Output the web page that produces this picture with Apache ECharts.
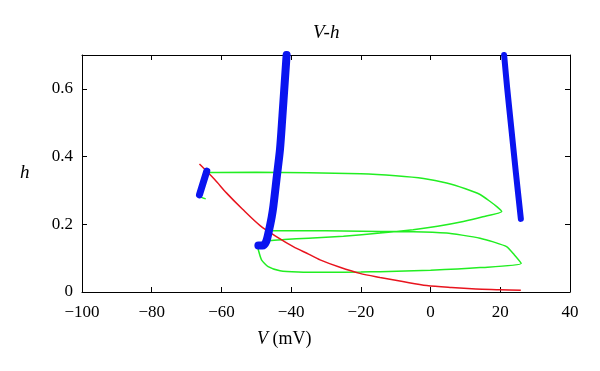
<!DOCTYPE html>
<html>
<head>
<meta charset="utf-8">
<script src="https://cdn.jsdelivr.net/npm/echarts@6/dist/echarts.min.js"></script>
<style>html,body{margin:0;padding:0;background:#fff}#c{width:600px;height:371px}</style>
</head>
<body>
<div id="c"></div>
<script>
var xTicks = [-100, -80, -60, -40, -20, 0, 20, 40];
var yTicks = [0, 0.2, 0.4, 0.6];

var blueLeftV = [-49.4, -48.2, -47.2, -46.4, -45.6, -45.1, -44.1, -43.2, -42.5, -41.9, -41.3];
var blueLeftH = [0.137, 0.137, 0.148, 0.18, 0.22, 0.253, 0.342, 0.421, 0.52, 0.61, 0.70];

var blueRightV = [21.1, 22.0, 23.2, 24.5, 25.9];
var blueRightH = [0.70, 0.60, 0.48, 0.35, 0.216];

var blueShortV = [-66.3, -64.2];
var blueShortH = [0.287, 0.357];

var redV = [-66.3, -62, -58.5, -54, -48.9, -44, -39.4, -35, -31.7, -26, -20.3, -14.5, -8, -1.1, 6, 13, 20, 25.9];
var redH = [0.378, 0.333, 0.292, 0.245, 0.196, 0.162, 0.134, 0.112, 0.095, 0.073, 0.055, 0.043, 0.031, 0.019, 0.013, 0.009, 0.007, 0.005];

var greenV = [-64.5, -66.0, -64.3, -50, -35, -20, -10, -2, 4.6, 10, 14.2, 17, 19, 20.4,
  15, 9.4, 2, -5, -14.5, -25, -35, -42, -46.1, -48.5, -49.6, -49.4, -48.5, -46.6, -43.2, -38, -29.8, -20, -14.5, 0, 14.2, 26,
  24, 21.8, 18, 14.2, 9, 4.6, -5, -14.5, -25, -35, -46];
var greenH = [0.275, 0.282, 0.353, 0.354, 0.352, 0.349, 0.343, 0.335, 0.322, 0.305, 0.288, 0.268, 0.252, 0.238,
  0.222, 0.208, 0.194, 0.184, 0.174, 0.165, 0.159, 0.155, 0.152, 0.146, 0.135, 0.124, 0.095, 0.075, 0.063, 0.059, 0.058, 0.059, 0.060, 0.064, 0.072, 0.084,
  0.11, 0.134, 0.148, 0.159, 0.168, 0.174, 0.178, 0.179, 0.180, 0.181, 0.181];

function zip(a, b) { return a.map(function (v, i) { return [v, b[i]]; }); }

var font = 'Liberation Serif';
var chart = echarts.init(document.getElementById('c'), null, {renderer: 'canvas'});
var axisBase = {
  axisLine: {show: true, onZero: false, lineStyle: {color: '#000', width: 1}},
  axisTick: {show: true, inside: true, length: 5, lineStyle: {color: '#000'}},
  splitLine: {show: false}
};
chart.setOption({
  animation: false,
  backgroundColor: '#fff',
  grid: {left: 82, right: 30, top: 55, bottom: 79},
  xAxis: [
    Object.assign({type: 'value', min: -100, max: 40, interval: 20, position: 'bottom',
      axisLabel: {color: '#000', fontFamily: font, fontSize: 17, margin: 12,
        formatter: function (v) { return v < 0 ? '\u2212' + Math.abs(v) : String(v); }}}, axisBase),
    Object.assign({type: 'value', min: -100, max: 40, interval: 20, position: 'top',
      axisLabel: {show: false}}, axisBase)
  ],
  yAxis: [
    Object.assign({type: 'value', min: 0, max: 0.7, interval: 0.2, position: 'left',
      axisLabel: {color: '#000', fontFamily: font, fontSize: 17, margin: 9,
        formatter: function (v) { return v > 0.65 ? '' : (v === 0 ? '0' : v.toFixed(1)); }}}, axisBase),
    Object.assign({type: 'value', min: 0, max: 0.7, interval: 0.2, position: 'right',
      axisLabel: {show: false}}, axisBase)
  ],
  graphic: [
    {type: 'text', left: 313, top: 23, style: {text: 'V-h', fontFamily: font, fontSize: 19, fontStyle: 'italic', fill: '#000'}},
    {type: 'text', left: 20, top: 163, style: {text: 'h', fontFamily: font, fontSize: 19, fontStyle: 'italic', fill: '#000'}},
    {type: 'text', left: 257, top: 330, style: {text: '{i|V} (mV)', fontFamily: font, fontSize: 18, fill: '#000',
      rich: {i: {fontFamily: font, fontSize: 18, fontStyle: 'italic', fill: '#000'}}}}
  ],
  series: [
    {type: 'line', data: zip(greenV, greenH), showSymbol: false, symbol: 'none', smooth: 0.2,
      lineStyle: {color: '#22ee22', width: 1.5}},
    {type: 'line', data: zip(redV, redH), showSymbol: false, symbol: 'none', smooth: 0.3,
      lineStyle: {color: '#e8141e', width: 1.5}},
    {type: 'line', data: zip(blueLeftV, blueLeftH), showSymbol: false, symbol: 'none', smooth: 0.3,
      lineStyle: {color: '#0a14f0', width: 8, cap: 'round', join: 'round'}},
    {type: 'line', data: zip(blueRightV, blueRightH), showSymbol: false, symbol: 'none', smooth: 0.3,
      lineStyle: {color: '#0a14f0', width: 6, cap: 'round', join: 'round'}},
    {type: 'line', data: zip(blueShortV, blueShortH), showSymbol: false, symbol: 'none',
      lineStyle: {color: '#0a14f0', width: 7, cap: 'round', join: 'round'}}
  ]
});
</script>
</body>
</html>
